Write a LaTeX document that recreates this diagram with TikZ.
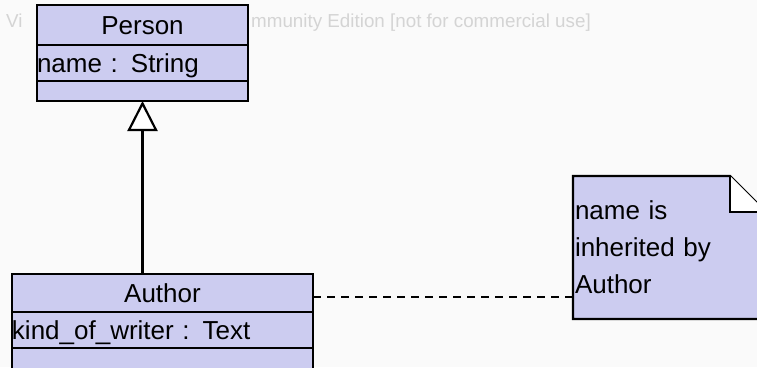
\documentclass[tikz,border=0pt]{standalone}
\usepackage{fontspec}
\setmainfont{Liberation Sans}
\usepackage{tikz}
\usetikzlibrary{arrows.meta, positioning}

\definecolor{classfill}{RGB}{204,204,240}
\definecolor{paper}{RGB}{250,250,250}
\definecolor{stamp}{RGB}{212,212,212}

\begin{document}
\begin{tikzpicture}[x=1pt, y=-1pt,
  compartment/.style={draw, fill=classfill, line width=2.2pt, inner sep=0pt, outer sep=0pt,
    text height=19pt, text depth=0pt, font=\fontsize{26}{31}\selectfont},
  notebox/.style={fill=classfill, inner sep=2pt, outer sep=0pt, align=left,
    font=\fontsize{26}{37}\selectfont},
  stampText/.style={anchor=base west, inner sep=0pt, text=stamp, font=\fontsize{18.8}{20}\selectfont}]

% Page
\useasboundingbox (0,0) rectangle (757,367);
\clip (0,0) rectangle (757,367);
\fill[paper] (0,0) rectangle (757,367);
\node[stampText] (stamp left) at (6,27) {Vi};
\node[stampText] (stamp right) at (251,27) {mmunity Edition [not for commercial use]};

% Person class
\node[compartment, text width=211pt, align=center, minimum height=40pt, anchor=north west] (person) at (37,5) {Person};
\node[compartment, text width=211pt, align=left, minimum height=36pt, below=0pt of person] (person attr) {name : String};
\node[compartment, text width=211pt, minimum height=20pt, below=0pt of person attr] (person ops) {};

% Author class
\node[compartment, text width=301pt, align=center, minimum height=38pt, anchor=north west] (author) at (12,274) {Author};
\node[compartment, text width=301pt, align=left, minimum height=36pt, below=0pt of author] (author attr) {kind\_of\_writer : Text};
\node[compartment, text width=301pt, minimum height=40pt, below=0pt of author attr] (author ops) {};

% Generalization
\draw[-{Triangle[open, length=30pt, width=30pt, fill=white]}, line width=2.2pt]
  (person ops.south |- author.north) -- (person ops.south);

% Note
\node[notebox, minimum width=193pt, minimum height=143pt, text width=189pt, anchor=north west] (note) at (573,176)
  {name is\\inherited by\\Author};
\fill[paper] ([xshift=-36pt]note.north east) -- (note.north east) -- ([yshift=-36pt]note.north east) -- cycle;
\draw[line width=2.2pt] (note.north west) -- ([xshift=-36pt]note.north east) -- ([yshift=-36pt]note.north east)
  -- (note.south east) -- (note.south west) -- cycle;
\filldraw[fill=white, line width=2.2pt] ([xshift=-36pt]note.north east) -- ([xshift=-36pt, yshift=-36pt]note.north east)
  -- ([yshift=-36pt]note.north east);

% Anchor line
\coordinate (link) at ([yshift=-4pt]author.east);
\draw[dash pattern=on 8pt off 6pt, line width=2.2pt] (link) -- (link -| note.west);
\end{tikzpicture}
\end{document}
